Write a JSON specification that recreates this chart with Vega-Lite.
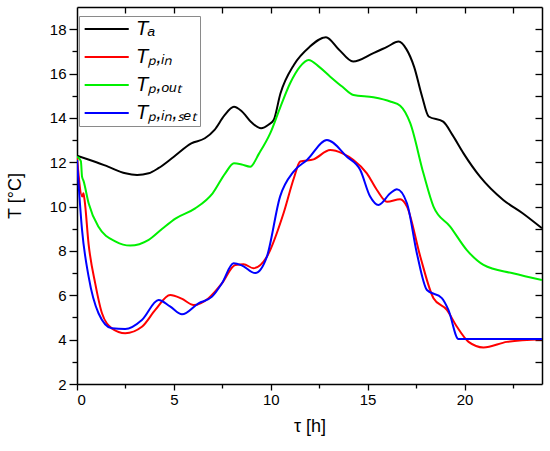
{
  "$schema": "https://vega.github.io/schema/vega-lite/v6.json",
  "width": 465,
  "height": 377,
  "autosize": {"type": "none"},
  "padding": {"left": 77, "top": 7, "right": 8, "bottom": 67},
  "background": "white",
  "datasets": {
    "temps": [
      {"h": 0, "T": 12.3, "s": "Ta"}, {"h": 1.0, "T": 12.0, "s": "Ta"}, {"h": 1.6, "T": 11.8, "s": "Ta"},
      {"h": 2.5, "T": 11.5, "s": "Ta"}, {"h": 3.1, "T": 11.43, "s": "Ta"}, {"h": 3.7, "T": 11.5, "s": "Ta"},
      {"h": 4.2, "T": 11.73, "s": "Ta"}, {"h": 5.0, "T": 12.25, "s": "Ta"}, {"h": 5.9, "T": 12.85, "s": "Ta"},
      {"h": 6.6, "T": 13.08, "s": "Ta"}, {"h": 7.1, "T": 13.46, "s": "Ta"}, {"h": 7.6, "T": 14.1, "s": "Ta"},
      {"h": 8.1, "T": 14.5, "s": "Ta"}, {"h": 8.5, "T": 14.3, "s": "Ta"}, {"h": 9.0, "T": 13.8, "s": "Ta"},
      {"h": 9.5, "T": 13.53, "s": "Ta"}, {"h": 9.9, "T": 13.7, "s": "Ta"}, {"h": 10.15, "T": 13.9, "s": "Ta"},
      {"h": 10.5, "T": 15.1, "s": "Ta"}, {"h": 11.2, "T": 16.4, "s": "Ta"}, {"h": 12.0, "T": 17.2, "s": "Ta"},
      {"h": 12.85, "T": 17.64, "s": "Ta"}, {"h": 13.5, "T": 17.1, "s": "Ta"}, {"h": 14.25, "T": 16.54, "s": "Ta"},
      {"h": 15.3, "T": 16.92, "s": "Ta"}, {"h": 16.0, "T": 17.2, "s": "Ta"}, {"h": 16.6, "T": 17.44, "s": "Ta"},
      {"h": 17.0, "T": 17.1, "s": "Ta"}, {"h": 17.4, "T": 16.3, "s": "Ta"}, {"h": 17.8, "T": 15.0, "s": "Ta"},
      {"h": 18.15, "T": 14.06, "s": "Ta"}, {"h": 18.9, "T": 13.83, "s": "Ta"}, {"h": 19.4, "T": 13.2, "s": "Ta"},
      {"h": 19.95, "T": 12.4, "s": "Ta"}, {"h": 20.8, "T": 11.35, "s": "Ta"}, {"h": 22.0, "T": 10.3, "s": "Ta"},
      {"h": 23.0, "T": 9.7, "s": "Ta"}, {"h": 24, "T": 9.02, "s": "Ta"},

      {"h": 0, "T": 12.2, "s": "Tpin"}, {"h": 0.27, "T": 10.45, "s": "Tpin"}, {"h": 0.33, "T": 10.6, "s": "Tpin"},
      {"h": 0.39, "T": 10.3, "s": "Tpin"}, {"h": 0.6, "T": 8.3, "s": "Tpin"}, {"h": 0.94, "T": 6.54, "s": "Tpin"},
      {"h": 1.29, "T": 5.19, "s": "Tpin"}, {"h": 1.8, "T": 4.51, "s": "Tpin"}, {"h": 2.49, "T": 4.29, "s": "Tpin"},
      {"h": 3.35, "T": 4.58, "s": "Tpin"}, {"h": 4.04, "T": 5.34, "s": "Tpin"}, {"h": 4.81, "T": 6.01, "s": "Tpin"},
      {"h": 5.4, "T": 5.85, "s": "Tpin"}, {"h": 6.02, "T": 5.56, "s": "Tpin"}, {"h": 6.79, "T": 5.87, "s": "Tpin"},
      {"h": 7.48, "T": 6.54, "s": "Tpin"}, {"h": 8.17, "T": 7.37, "s": "Tpin"}, {"h": 8.6, "T": 7.4, "s": "Tpin"},
      {"h": 9.11, "T": 7.22, "s": "Tpin"}, {"h": 9.8, "T": 7.74, "s": "Tpin"}, {"h": 10.66, "T": 9.7, "s": "Tpin"},
      {"h": 11.2, "T": 11.3, "s": "Tpin"}, {"h": 11.52, "T": 12.03, "s": "Tpin"}, {"h": 12.21, "T": 12.13, "s": "Tpin"},
      {"h": 13.07, "T": 12.55, "s": "Tpin"}, {"h": 13.7, "T": 12.4, "s": "Tpin"}, {"h": 14.27, "T": 12.1, "s": "Tpin"},
      {"h": 14.96, "T": 11.5, "s": "Tpin"}, {"h": 15.48, "T": 10.75, "s": "Tpin"}, {"h": 16.0, "T": 10.22, "s": "Tpin"},
      {"h": 16.68, "T": 10.33, "s": "Tpin"}, {"h": 17.03, "T": 10.0, "s": "Tpin"}, {"h": 17.72, "T": 7.74, "s": "Tpin"},
      {"h": 18.4, "T": 5.87, "s": "Tpin"}, {"h": 19.09, "T": 5.34, "s": "Tpin"}, {"h": 19.61, "T": 4.58, "s": "Tpin"},
      {"h": 20.21, "T": 3.9, "s": "Tpin"}, {"h": 20.98, "T": 3.65, "s": "Tpin"}, {"h": 22.19, "T": 3.9, "s": "Tpin"},
      {"h": 24, "T": 4.02, "s": "Tpin"},

      {"h": 0, "T": 12.25, "s": "Tpout"}, {"h": 0.2, "T": 12.05, "s": "Tpout"}, {"h": 0.26, "T": 11.35, "s": "Tpout"},
      {"h": 0.34, "T": 11.15, "s": "Tpout"}, {"h": 0.6, "T": 10.15, "s": "Tpout"}, {"h": 1.1, "T": 9.1, "s": "Tpout"},
      {"h": 2.0, "T": 8.42, "s": "Tpout"}, {"h": 2.75, "T": 8.24, "s": "Tpout"}, {"h": 3.7, "T": 8.5, "s": "Tpout"},
      {"h": 4.4, "T": 9.0, "s": "Tpout"}, {"h": 5.1, "T": 9.47, "s": "Tpout"}, {"h": 6.1, "T": 9.92, "s": "Tpout"},
      {"h": 7.0, "T": 10.6, "s": "Tpout"}, {"h": 7.65, "T": 11.5, "s": "Tpout"}, {"h": 8.1, "T": 11.95, "s": "Tpout"},
      {"h": 8.5, "T": 11.9, "s": "Tpout"}, {"h": 8.94, "T": 11.8, "s": "Tpout"}, {"h": 9.4, "T": 12.4, "s": "Tpout"},
      {"h": 9.97, "T": 13.3, "s": "Tpout"}, {"h": 10.5, "T": 14.5, "s": "Tpout"}, {"h": 11.0, "T": 15.56, "s": "Tpout"},
      {"h": 11.5, "T": 16.3, "s": "Tpout"}, {"h": 11.95, "T": 16.61, "s": "Tpout"}, {"h": 12.5, "T": 16.3, "s": "Tpout"},
      {"h": 13.07, "T": 15.86, "s": "Tpout"}, {"h": 13.7, "T": 15.4, "s": "Tpout"}, {"h": 14.27, "T": 15.03, "s": "Tpout"},
      {"h": 15.3, "T": 14.93, "s": "Tpout"}, {"h": 16.2, "T": 14.73, "s": "Tpout"}, {"h": 16.68, "T": 14.55, "s": "Tpout"},
      {"h": 17.2, "T": 13.76, "s": "Tpout"}, {"h": 17.88, "T": 11.5, "s": "Tpout"}, {"h": 18.4, "T": 10.0, "s": "Tpout"},
      {"h": 19.26, "T": 9.1, "s": "Tpout"}, {"h": 20.12, "T": 8.04, "s": "Tpout"}, {"h": 20.98, "T": 7.37, "s": "Tpout"},
      {"h": 22.5, "T": 6.99, "s": "Tpout"}, {"h": 24, "T": 6.69, "s": "Tpout"},

      {"h": 0, "T": 12.1, "s": "Tpinset"}, {"h": 0.26, "T": 8.95, "s": "Tpinset"}, {"h": 0.6, "T": 6.84, "s": "Tpinset"},
      {"h": 1.11, "T": 5.19, "s": "Tpinset"}, {"h": 1.8, "T": 4.51, "s": "Tpinset"}, {"h": 2.49, "T": 4.48, "s": "Tpinset"},
      {"h": 3.35, "T": 4.89, "s": "Tpinset"}, {"h": 4.21, "T": 5.79, "s": "Tpinset"}, {"h": 4.8, "T": 5.5, "s": "Tpinset"},
      {"h": 5.42, "T": 5.14, "s": "Tpinset"}, {"h": 6.27, "T": 5.64, "s": "Tpinset"}, {"h": 6.97, "T": 5.94, "s": "Tpinset"},
      {"h": 7.48, "T": 6.54, "s": "Tpinset"}, {"h": 8.08, "T": 7.44, "s": "Tpinset"}, {"h": 8.5, "T": 7.35, "s": "Tpinset"},
      {"h": 9.2, "T": 7.0, "s": "Tpinset"}, {"h": 9.8, "T": 7.74, "s": "Tpinset"}, {"h": 10.48, "T": 10.45, "s": "Tpinset"},
      {"h": 11.18, "T": 11.58, "s": "Tpinset"}, {"h": 11.87, "T": 12.1, "s": "Tpinset"}, {"h": 12.9, "T": 13.0, "s": "Tpinset"},
      {"h": 13.93, "T": 12.25, "s": "Tpinset"}, {"h": 14.62, "T": 11.65, "s": "Tpinset"}, {"h": 15.13, "T": 10.45, "s": "Tpinset"},
      {"h": 15.56, "T": 10.07, "s": "Tpinset"}, {"h": 16.17, "T": 10.6, "s": "Tpinset"}, {"h": 16.51, "T": 10.78, "s": "Tpinset"},
      {"h": 17.03, "T": 10.15, "s": "Tpinset"}, {"h": 17.54, "T": 7.9, "s": "Tpinset"}, {"h": 18.06, "T": 6.24, "s": "Tpinset"},
      {"h": 18.83, "T": 5.87, "s": "Tpinset"}, {"h": 19.17, "T": 5.34, "s": "Tpinset"}, {"h": 19.69, "T": 4.03, "s": "Tpinset"},
      {"h": 24, "T": 4.03, "s": "Tpinset"}
    ]
  },
  "data": {"name": "temps"},
  "layer": [
    {
      "mark": {"type": "line", "interpolate": "monotone", "strokeWidth": 2, "clip": true},
      "encoding": {
        "x": {
          "field": "h", "type": "quantitative",
          "scale": {"domain": [0, 24], "nice": false, "zero": false},
          "axis": {"orient": "bottom", "values": [0, 5, 10, 15, 20], "tickSize": 6, "title": "τ [h]", "titlePadding": 10}
        },
        "y": {
          "field": "T", "type": "quantitative",
          "scale": {"domain": [2, 19], "nice": false, "zero": false},
          "axis": {"orient": "left", "values": [2, 4, 6, 8, 10, 12, 14, 16, 18], "tickSize": 8, "labelPadding": 3, "title": "T [°C]", "titlePadding": 25}
        },
        "color": {
          "field": "s", "type": "nominal",
          "scale": {"domain": ["Ta", "Tpin", "Tpout", "Tpinset"], "range": ["#000000", "#ff0000", "#00f000", "#0000ff"]},
          "legend": {
            "title": null,
            "orient": "none", "legendX": 2, "legendY": 9,
            "symbolType": "M-1,0H5", "symbolSize": 216, "symbolStrokeWidth": 2,
            "rowPadding": 8,
            "padding": 3,
            "labelOffset": 34,
            "labelFontSize": 20, "labelFontStyle": "italic", "labelFont": "Liberation Sans",
            "labelColor": "#000000",
            "fillColor": "white", "strokeColor": "#8a8a8a",
            "labelExpr": "{'Ta': 'Tₐ', 'Tpin': 'Tₚ,ᵢₙ', 'Tpout': 'Tₚ,ₒᵤₜ', 'Tpinset': 'Tₚ,ᵢₙ,ₛₑₜ'}[datum.value]"
          }
        }
      }
    },
    {
      "mark": {"type": "point", "opacity": 0},
      "encoding": {
        "x": {"field": "h", "type": "quantitative", "axis": {"orient": "bottom", "values": [2.5, 7.5, 12.5, 17.5, 22.5], "labels": false, "tickSize": 4, "title": null, "domain": false}},
        "y": {"field": "T", "type": "quantitative", "axis": {"orient": "left", "values": [3, 5, 7, 9, 11, 13, 15, 17], "labels": false, "tickSize": 5, "title": null, "domain": false}}
      }
    },
    {
      "mark": {"type": "point", "opacity": 0},
      "encoding": {
        "x": {"field": "h", "type": "quantitative", "axis": {"orient": "top", "values": [2.5, 5, 7.5, 10, 12.5, 15, 17.5, 20, 22.5], "labels": false, "tickSize": -6, "title": null}},
        "y": {"field": "T", "type": "quantitative", "axis": {"orient": "right", "values": [3, 4, 5, 6, 7, 8, 9, 10, 11, 12, 13, 14, 15, 16, 17, 18], "labels": false, "tickSize": -7, "title": null}}
      }
    }
  ],
  "resolve": {"scale": {"x": "shared", "y": "shared"}, "axis": {"x": "independent", "y": "independent"}},
  "config": {
    "view": {"stroke": null},
    "font": "Liberation Sans",
    "axis": {
      "grid": false,
      "domainColor": "#000000", "domainWidth": 1.5,
      "tickColor": "#000000", "tickWidth": 1.3,
      "labelFont": "Liberation Sans", "labelFontSize": 15, "labelColor": "#000000",
      "titleFont": "Liberation Sans", "titleFontSize": 18, "titleFontWeight": "normal", "titleColor": "#000000"
    }
  }
}
